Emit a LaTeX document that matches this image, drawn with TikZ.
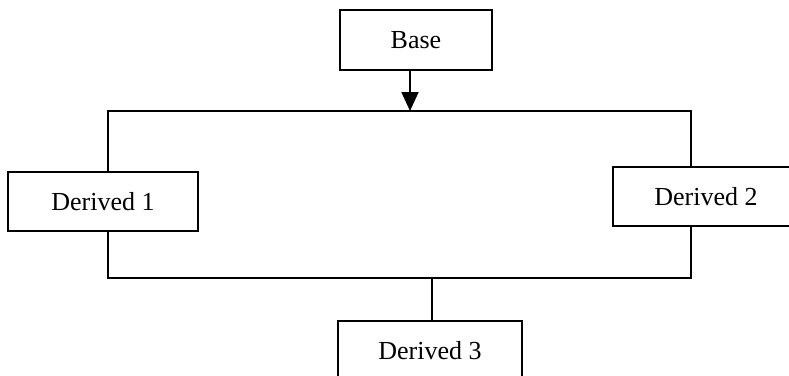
\documentclass[tikz,border=0pt]{standalone}
\usepackage{fontspec}
\setmainfont{Liberation Serif}
\usetikzlibrary{arrows.meta}
\begin{document}
\begin{tikzpicture}[x=1pt,y=-1pt,
  box/.style={draw=black, line width=1.8pt, fill=white, inner sep=0pt, font=\fontsize{26}{31}\selectfont},
  link/.style={draw=black, line width=1.8pt},
  arrowlink/.style={link, -{Triangle[length=19pt,width=17pt]}}]
\useasboundingbox (0,0) rectangle (789,375);
\clip (0,0) rectangle (789,375);
\node[box, minimum width=152pt, minimum height=60pt] (base) at (416,40) {Base};
\node[box, minimum width=190pt, minimum height=59pt] (d1) at (103,201.5) {Derived 1};
\node[box, minimum width=186pt, minimum height=59pt] (d2) at (706,196.5) {Derived 2};
\node[box, minimum width=184pt, minimum height=60pt] (d3) at (430,351) {Derived 3};
\coordinate (top) at (410,111);
\coordinate (tl) at (108,111);
\coordinate (tr) at (691,111);
\coordinate (bl) at (108,278);
\coordinate (br) at (691,278);
\coordinate (bm) at (432,278);
\draw[arrowlink] (base.south -| top) -- (top);
\draw[link] (d1.north -| tl) -- (tl) -- (tr) -- (d2.north -| tr);
\draw[link] (d1.south -| bl) -- (bl) -- (br) -- (d2.south -| br);
\draw[link] (bm) -- (d3.north -| bm);
\end{tikzpicture}
\end{document}
